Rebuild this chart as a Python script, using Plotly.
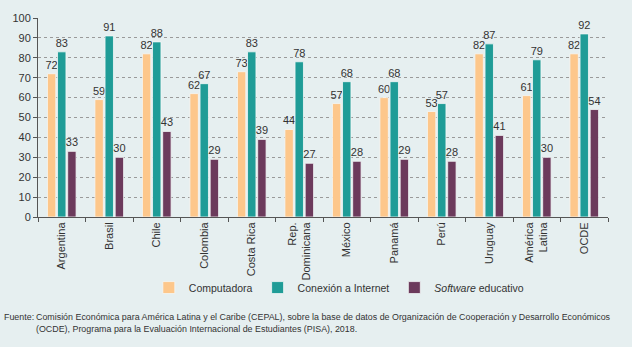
import plotly.graph_objects as go

paises = ["Argentina", "Brasil", "Chile", "Colombia", "Costa Rica", "Rep.<br>Dominicana",
          "México", "Panamá", "Perú", "Uruguay", "América<br>Latina", "OCDE"]
computadora = [72, 59, 82, 62, 73, 44, 57, 60, 53, 82, 61, 82]
internet = [83, 91, 88, 67, 83, 78, 68, 68, 57, 87, 79, 92]
software = [33, 30, 43, 29, 39, 27, 28, 29, 28, 41, 30, 54]
y_ticks = [0, 10, 20, 30, 40, 50, 60, 70, 80, 90, 100]

FONT = "Liberation Sans, Arial, sans-serif"
BG = "#e6eff0"
INK = "#333333"

ML, MR, MT, MB = 32, 24, 14, 130
W, H = 632, 347
plot_w = W - ML - MR
plot_h = H - MT - MB


def px_x(x):
    return (x - ML) / plot_w


def px_y(y):
    return (H - MB - y) / plot_h


series = [
    ("Computadora", computadora, "#fdc78b"),
    ("Conexión a Internet", internet, "#1f9c97"),
    ("<i>Software</i> educativo", software, "#6c3a5c"),
]

fig = go.Figure()
for name, vals, color in series:
    fig.add_trace(go.Bar(
        x=paises, y=vals, name=name,
        marker=dict(color=color, line=dict(color="#f4f8f8", width=0.8)),
        text=[str(v) for v in vals], textposition="outside",
        textfont=dict(family=FONT, size=11, color=INK),
        constraintext="none", cliponaxis=False,
    ))

fig.update_layout(
    width=W, height=H,
    margin=dict(l=ML, r=MR, t=MT, b=MB),
    paper_bgcolor=BG, plot_bgcolor=BG,
    barmode="group", bargap=0.36, bargroupgap=0.17,
    font=dict(family=FONT, color=INK),
    showlegend=True,
    legend=dict(
        orientation="h", x=px_x(144), y=px_y(289), xanchor="left", yanchor="middle",
        font=dict(family=FONT, size=10.5, color=INK),
        bgcolor="rgba(0,0,0,0)", itemwidth=30, tracegroupgap=0,
    ),
)

# Source note below the legend
note_font = dict(family=FONT, size=8.9, color=INK)
fig.add_annotation(
    text="Fuente:", x=px_x(-4), y=px_y(312), xref="paper", yref="paper",
    showarrow=False, xanchor="left", yanchor="top", align="left", font=note_font,
)
fig.add_annotation(
    text="Comisión Económica para América Latina y el Caribe (CEPAL), sobre la base de datos de "
         "Organización de Cooperación y Desarrollo Económicos<br>"
         "(OCDE), Programa para la Evaluación Internacional de Estudiantes (PISA), 2018.",
    x=px_x(28), y=px_y(312), xref="paper", yref="paper",
    showarrow=False, xanchor="left", yanchor="top", align="left", font=note_font,
)

fig.update_yaxes(
    range=[0, 100], tickvals=y_ticks, showgrid=True,
    gridcolor="#9a9a9a", griddash="3px,3px", gridwidth=1,
    showline=True, linecolor="#555555", linewidth=1,
    ticks="outside", ticklen=4, tickcolor="#555555",
    tickfont=dict(family=FONT, size=11, color=INK),
    zeroline=False,
)
fig.update_xaxes(
    tickangle=-90, tickson="boundaries", ticks="outside", ticklen=4, tickcolor="#555555",
    showline=True, linecolor="#555555", linewidth=1,
    tickfont=dict(family=FONT, size=11, color=INK),
    range=[-0.5, 11.5],
)

fig.write_html("out.html")
